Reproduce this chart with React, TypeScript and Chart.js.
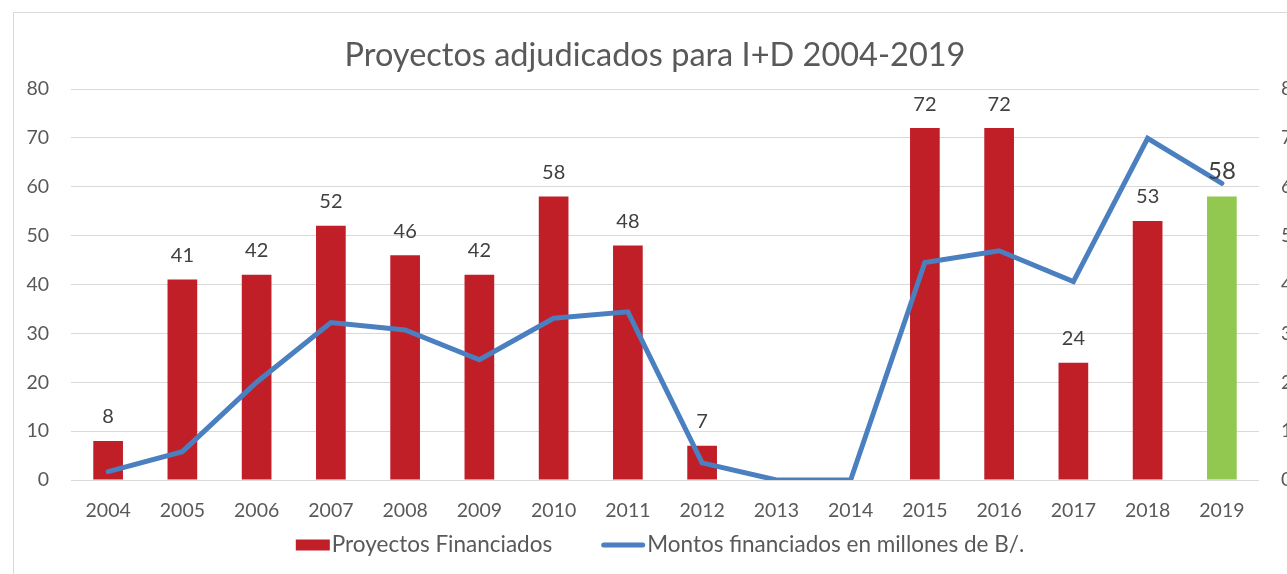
import { useEffect, useRef } from "react";
import { Chart, registerables } from "chart.js";

Chart.register(...registerables);

const categories = ["2004", "2005", "2006", "2007", "2008", "2009", "2010", "2011", "2012", "2013", "2014", "2015", "2016", "2017", "2018", "2019"];
const proyectosFinanciados = [8, 41, 42, 52, 46, 42, 58, 48, 7, null, null, 72, 72, 24, 53, 58];
const montosFinanciados = [0.17, 0.58, 2.0, 3.22, 3.07, 2.46, 3.31, 3.44, 0.35, 0, 0, 4.45, 4.69, 4.06, 6.99, 6.07];
const leftTicks = [0, 10, 20, 30, 40, 50, 60, 70, 80];
const rightTicks = [0, 1, 2, 3, 4, 5, 6, 7, 8];
const seriesNames = ["Proyectos Financiados", "Montos financiados en millones de B/."];

const RED = "#C01F28";
const GREEN = "#92C850";
const BLUE = "#4A7FC0";
const FONT = "Lato";
const TEXT = "#595959";

const framePlugin = {
  id: "frame",
  beforeDraw(chart: any) {
    const ctx = chart.ctx;
    ctx.save();
    ctx.fillStyle = "#ffffff";
    ctx.fillRect(0, 0, chart.width, chart.height);
    ctx.strokeStyle = "#D9D9D9";
    ctx.lineWidth = 1;
    ctx.strokeRect(13.5, 12.5, 3000, 3000);
    ctx.restore();
  },
};

const barLabelsPlugin = {
  id: "barLabels",
  afterDatasetsDraw(chart: any) {
    const meta = chart.getDatasetMeta(0);
    const ctx = chart.ctx;
    ctx.save();
    ctx.fillStyle = "#404040";
    ctx.textAlign = "center";
    ctx.textBaseline = "middle";
    meta.data.forEach((bar: any, i: number) => {
      const v = proyectosFinanciados[i];
      if (v == null) return;
      const isLast = i === proyectosFinanciados.length - 1;
      ctx.font = `${isLast ? 24 : 20}px ${FONT}`;
      ctx.fillText(String(v), bar.x, bar.y - (isLast ? 25 : 24));
    });
    ctx.restore();
  },
};

// Legend drawn below the axis, reading names and colours from the datasets
const legendPlugin = {
  id: "customLegend",
  afterDraw(chart: any) {
    const ctx = chart.ctx;
    const ds = chart.data.datasets;
    const cy = 545;
    const boxW = 34;
    const lineW = 44;
    const textGap = 2;
    const itemGap = 49;
    ctx.save();
    ctx.font = `22.5px ${FONT}`;
    ctx.textBaseline = "middle";
    ctx.textAlign = "left";
    const w0 = ctx.measureText(ds[0].label).width;
    const w1 = ctx.measureText(ds[1].label).width;
    const total = boxW + textGap + w0 + itemGap + lineW + textGap + w1;
    let x = 660 - total / 2;
    ctx.fillStyle = RED;
    ctx.fillRect(x, cy - 5.5, boxW, 11);
    x += boxW + textGap;
    ctx.fillStyle = TEXT;
    ctx.fillText(ds[0].label, x, cy);
    x += w0 + itemGap;
    ctx.strokeStyle = ds[1].borderColor;
    ctx.lineWidth = 5;
    ctx.lineCap = "round";
    ctx.beginPath();
    ctx.moveTo(x + 2.5, cy);
    ctx.lineTo(x + lineW - 2.5, cy);
    ctx.stroke();
    x += lineW + textGap;
    ctx.fillText(ds[1].label, x, cy);
    ctx.restore();
  },
};

export default function App() {
  const ref = useRef<HTMLCanvasElement | null>(null);

  useEffect(() => {
    if (!ref.current) return;
    const chart = new Chart(ref.current, {
      type: "bar",
      data: {
        labels: categories,
        datasets: [
          {
            type: "bar",
            label: seriesNames[0],
            data: proyectosFinanciados as any,
            backgroundColor: proyectosFinanciados.map((_, i) => (i === proyectosFinanciados.length - 1 ? GREEN : RED)),
            borderWidth: 0,
            barPercentage: 0.8,
            categoryPercentage: 0.5,
            yAxisID: "y",
            order: 1,
          },
          {
            type: "line",
            label: seriesNames[1],
            data: montosFinanciados,
            borderColor: BLUE,
            backgroundColor: BLUE,
            borderWidth: 5,
            borderCapStyle: "round",
            pointRadius: 0,
            tension: 0,
            yAxisID: "y1",
            order: 0,
          } as any,
        ],
      },
      options: {
        animation: false,
        responsive: false,
        layout: { padding: 0 },
        plugins: {
          tooltip: { enabled: false },
          legend: { display: false },
          title: {
            display: true,
            text: "Proyectos adjudicados para I+D 2004-2019",
            color: TEXT,
            font: { family: FONT, size: 32.5, weight: "normal", lineHeight: 1.2 },
            padding: { top: 36, bottom: 14 },
          },
        },
        scales: {
          x: {
            grid: { display: false, drawTicks: false },
            border: { display: false },
            ticks: { color: TEXT, font: { family: FONT, size: 19.5 }, padding: 19, maxRotation: 0, autoSkip: false },
            afterFit: (s: any) => {
              s.height = 94;
            },
          },
          y: {
            position: "left",
            min: 0,
            max: 80,
            afterBuildTicks: (s: any) => {
              s.ticks = leftTicks.map((v) => ({ value: v }));
            },
            grid: { color: "#D9D9D9", lineWidth: 1, drawTicks: false },
            border: { display: false },
            ticks: { color: TEXT, font: { family: FONT, size: 19.5 }, padding: 22 },
            afterFit: (s: any) => {
              s.width = 71;
            },
          },
          y1: {
            position: "right",
            min: 0,
            max: 8,
            afterBuildTicks: (s: any) => {
              s.ticks = rightTicks.map((v) => ({ value: v }));
            },
            grid: { display: false, drawTicks: false },
            border: { display: false },
            ticks: { color: TEXT, font: { family: FONT, size: 19.5 }, padding: 22 },
            afterFit: (s: any) => {
              s.width = 51;
            },
          },
        },
      },
      plugins: [framePlugin, barLabelsPlugin, legendPlugin],
    });
    return () => chart.destroy();
  }, []);

  return (
    <div style={{ position: "fixed", left: 0, top: 0, width: 1287, height: 574, overflow: "hidden", background: "#fff" }}>
      <canvas ref={ref} width={1310} height={574} style={{ display: "block", width: 1310, height: 574 }} />
    </div>
  );
}
